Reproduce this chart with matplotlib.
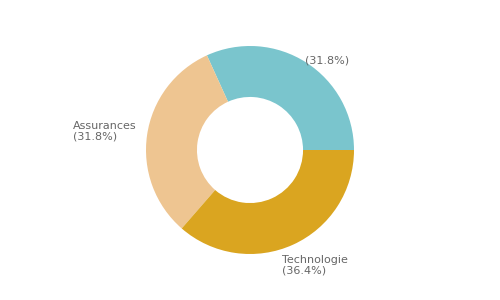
import matplotlib.pyplot as plt

labels = ['', 'Assurances', 'Technologie']
values = [31.8, 31.8, 36.4]
colors = ['#7AC5CD', '#EEC591', '#DAA520']
# label anchor points in data units (radius = 1)
label_pos = [(0.53, 0.86), (-1.70, 0.18), (0.31, -1.11)]


def main():
    fig = plt.figure(figsize=(5, 3), dpi=100)
    ax = fig.add_axes([0, 0, 1, 1])
    r = 104.0
    ax.pie(values, colors=colors, startangle=0, counterclock=True,
           radius=1.0, wedgeprops=dict(width=0.49, edgecolor='none'))
    ax.set_xlim(-250 / r, 250 / r)
    ax.set_ylim(-150 / r, 150 / r)
    ax.set_aspect('auto')
    ax.axis('off')

    for lb, v, (x, y) in zip(labels, values, label_pos):
        txt = '(%.1f%%)' % v if lb == '' else '%s\n(%.1f%%)' % (lb, v)
        ax.text(x, y, txt, ha='left', va='center', fontsize=8,
                color='#666666', linespacing=1.1)

    fig.savefig('out.png', dpi=100)


if __name__ == '__main__':
    main()
